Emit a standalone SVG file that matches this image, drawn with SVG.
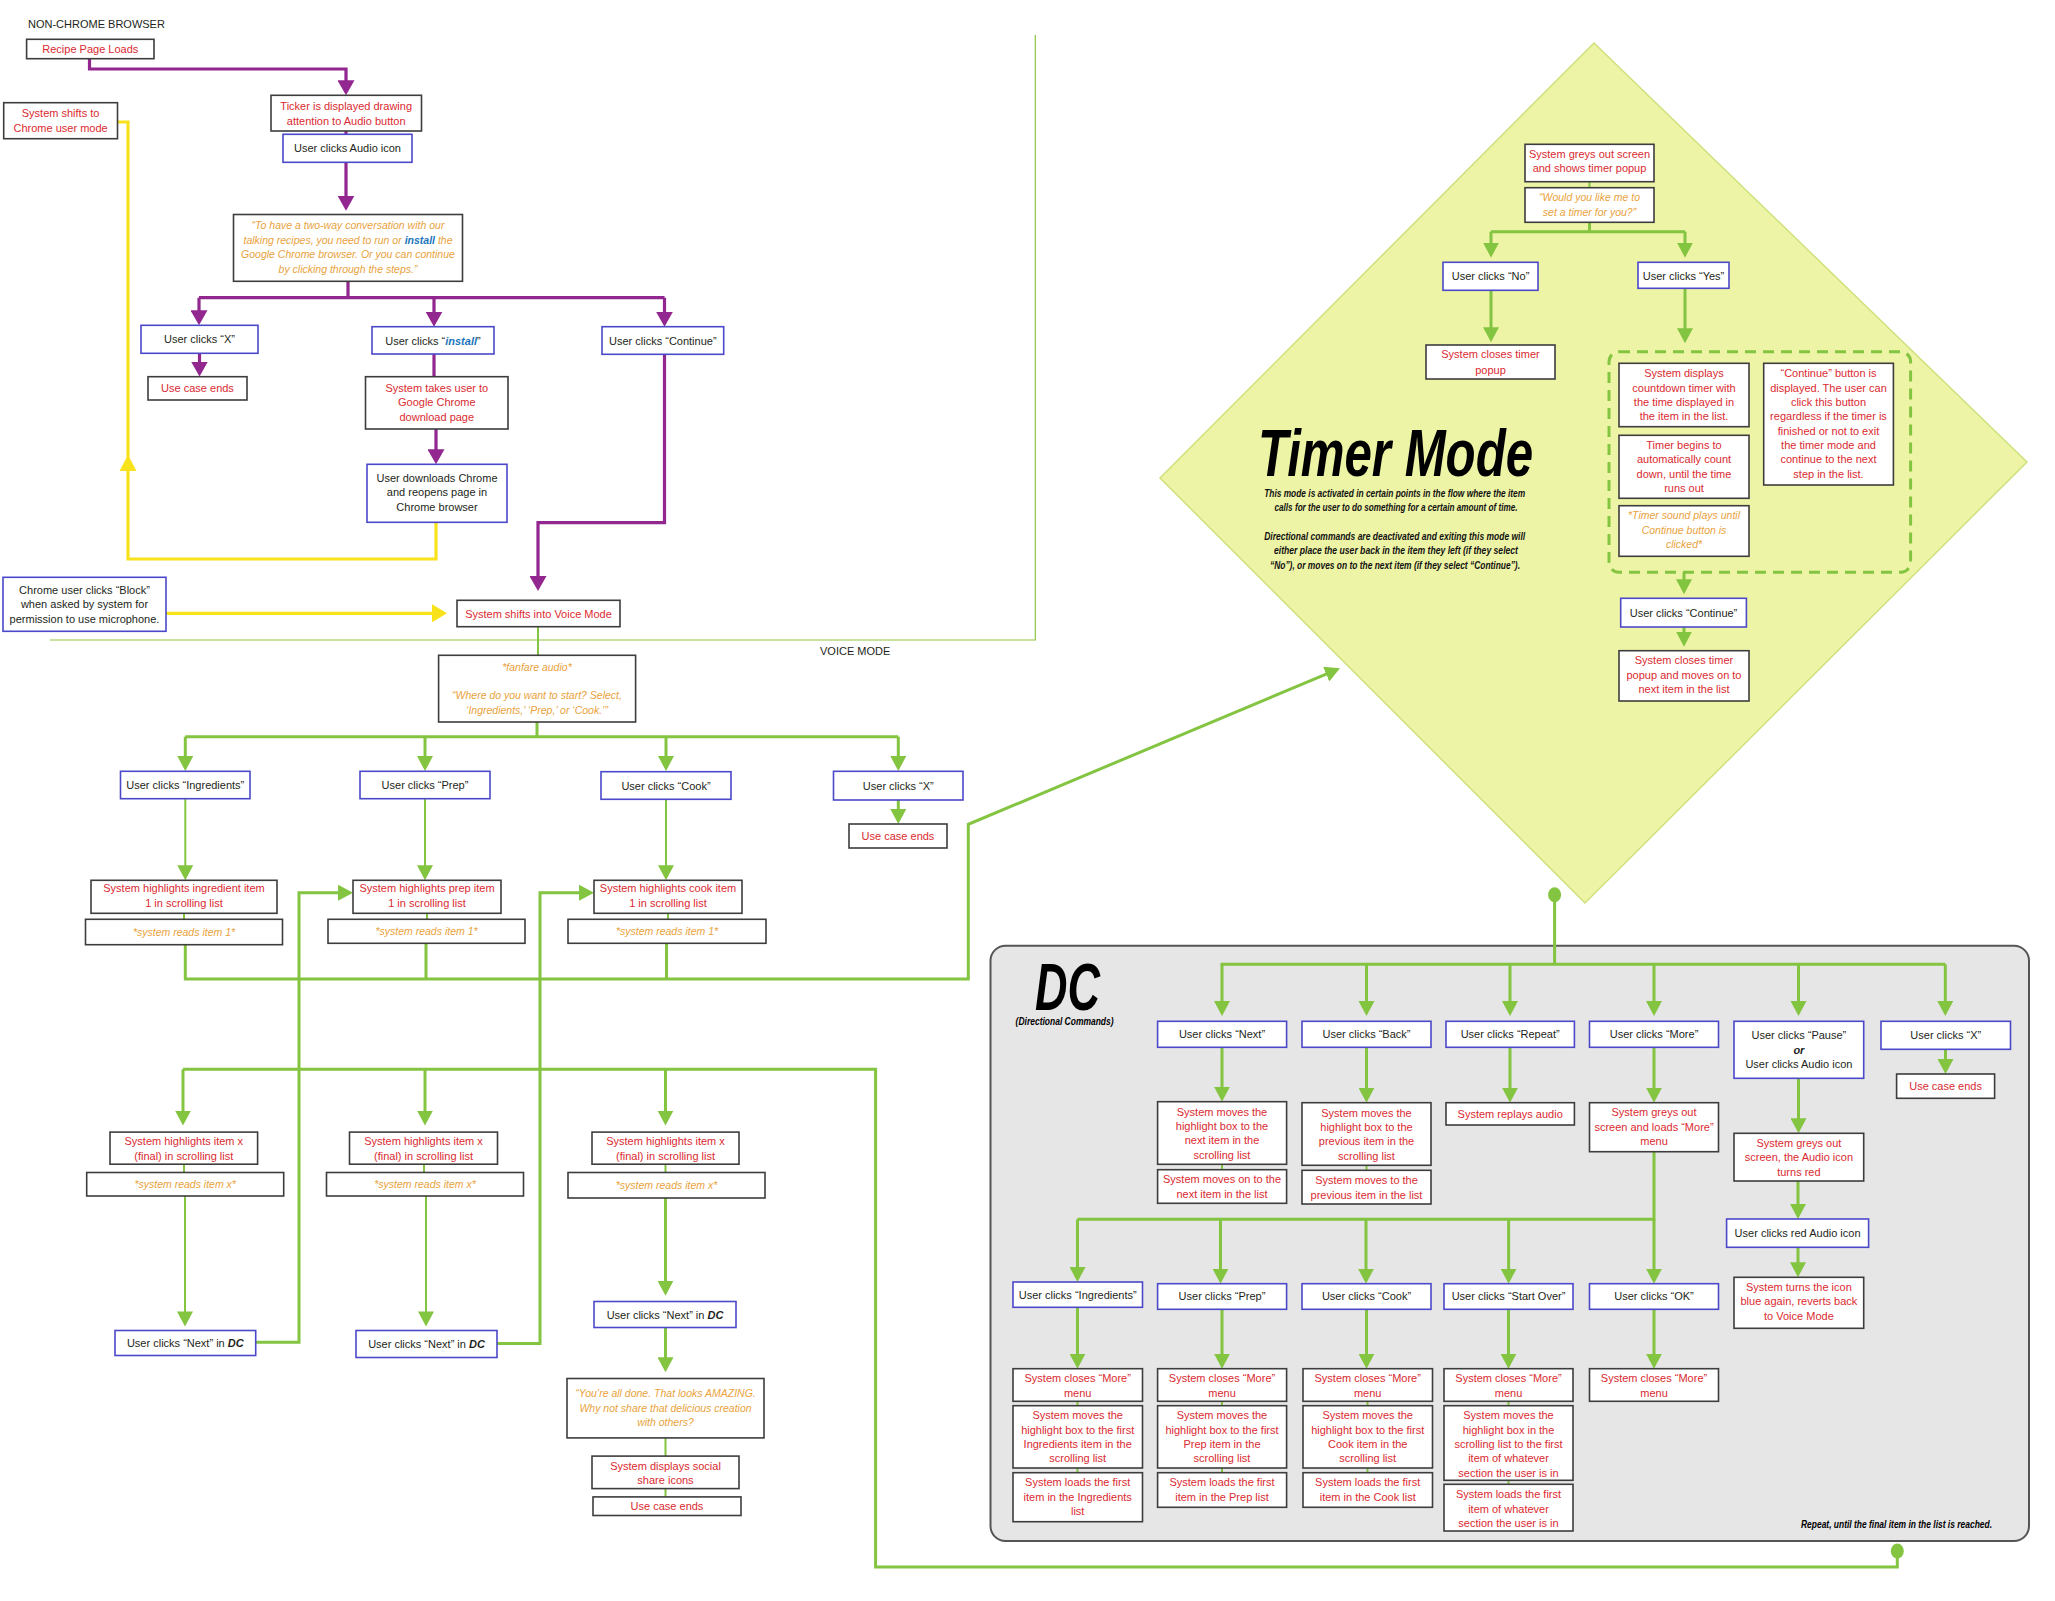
<svg xmlns="http://www.w3.org/2000/svg" width="2055" height="1601" viewBox="0 0 2055 1601">
<style>
text{font-family:"Liberation Sans",Arial,sans-serif;font-size:11px;}
.c{text-anchor:middle}
.r{fill:#da2a30}
.k{fill:#231f20}
.o{fill:#e9a23b;font-style:italic;font-size:10.5px}
.sb{fill:#fff;stroke:#3d3d3d;stroke-width:1.6}
.ub{fill:#fff;stroke:#4b49c9;stroke-width:1.6}
.pl{fill:none;stroke:#92278f;stroke-width:3.2}
.gl{fill:none;stroke:#83c441;stroke-width:3}
.gt{fill:none;stroke:#83c441;stroke-width:2}
.yl{fill:none;stroke:#f8e21c;stroke-width:3.2}
.bi{font-weight:bold;font-style:italic}
.bl{fill:#1b75bb;font-weight:bold;font-style:italic}
.big{font-weight:bold;font-style:italic;font-size:66px;fill:#000}
.desc{font-weight:bold;font-style:italic;font-size:10px;fill:#111}
</style>
<defs>
<marker id="ap" markerUnits="userSpaceOnUse" markerWidth="16" markerHeight="17" viewBox="0 0 16 17" refX="11" refY="8.5" orient="auto"><path d="M0,0L15,8.5L0,17z" fill="#92278f"/></marker>
<marker id="ag" markerUnits="userSpaceOnUse" markerWidth="16" markerHeight="16" viewBox="0 0 16 16" refX="11" refY="8" orient="auto"><path d="M0,0L15,8L0,16z" fill="#83c441"/></marker>
<marker id="ay" markerUnits="userSpaceOnUse" markerWidth="16" markerHeight="18" viewBox="0 0 16 18" refX="11" refY="9" orient="auto"><path d="M0,0L15,9L0,18z" fill="#f8e21c"/></marker>
</defs>
<rect width="2055" height="1601" fill="#fff"/>

<g id="timer-mode-area">
<polygon points="1594,43 2027,462 1585,903 1160,478" fill="#eef4a6" stroke="#cfe17c" stroke-width="1.5"/>
<text class="big" x="1258" y="475.7" textLength="275" lengthAdjust="spacingAndGlyphs">Timer Mode</text>
<text class="desc c" x="1394.7" y="497" textLength="261" lengthAdjust="spacingAndGlyphs">This mode is activated in certain points in the flow where the item</text>
<text class="desc c" x="1396" y="511" textLength="243" lengthAdjust="spacingAndGlyphs">calls for the user to do something for a certain amount of time.</text>
<text class="desc c" x="1394.7" y="540" textLength="261" lengthAdjust="spacingAndGlyphs">Directional commands are deactivated and exiting this mode will</text>
<text class="desc c" x="1396" y="554" textLength="244" lengthAdjust="spacingAndGlyphs">either place the user back in the item they left (if they select</text>
<text class="desc c" x="1395" y="569" textLength="250" lengthAdjust="spacingAndGlyphs">“No”), or moves on to the next item (if they select “Continue”).</text>
<rect x="1609" y="351.7" width="301.6" height="220.6" rx="10" fill="none" stroke="#83c441" stroke-width="3" stroke-dasharray="11 7"/>
</g>

<g id="dc-area">
<rect x="990.5" y="945.7" width="1038.5" height="595.3" rx="15" fill="#e6e6e6" stroke="#555" stroke-width="2"/>
<text class="big" x="1035" y="1010" textLength="65" lengthAdjust="spacingAndGlyphs">DC</text>
<text class="bi" x="1015.6" y="1025" font-size="9" textLength="98" lengthAdjust="spacingAndGlyphs">(Directional Commands)</text>
<text class="bi" x="1801" y="1527.5" font-size="9.5" textLength="191" lengthAdjust="spacingAndGlyphs">Repeat, until the final item in the list is reached.</text>
</g>

<g id="labels">
<text class="k" x="28" y="27.5" font-size="10">NON-CHROME BROWSER</text>
<text class="k" x="820" y="655" font-size="10.5">VOICE MODE</text>
</g>

<g id="connectors">
<path class="pl" d="M89.5,58.7V69H346V91.3" marker-end="url(#ap)"/>
<path class="pl" d="M346,131V134.3" stroke-width="2"/>
<path class="pl" d="M346,162.3V206.7" marker-end="url(#ap)"/>
<path class="pl" d="M348,281.3V297.7M199,297.7H664.5"/>
<path class="pl" d="M199,297.7V321.3" marker-end="url(#ap)"/>
<path class="pl" d="M434,297.7V322.7" marker-end="url(#ap)"/>
<path class="pl" d="M664.5,297.7V322.7" marker-end="url(#ap)"/>
<path class="pl" d="M434,354V376.7"/>
<path class="pl" d="M199.5,353.3V372.5" marker-end="url(#ap)"/>
<path class="pl" d="M436,429V460.3" marker-end="url(#ap)"/>
<path class="pl" d="M664.5,354.3V522.7H538V587" marker-end="url(#ap)"/>
<path class="yl" d="M436,522.3V559H128V122H117.5"/>
<polygon points="128,455 119.5,471 136.5,471" fill="#f8e21c"/>
<path class="yl" d="M166,613.3H443" marker-end="url(#ay)"/>
<path d="M50,640H1035.3V35" fill="none" stroke="#8dc63f" stroke-width="1.2"/>
<path class="gt" d="M538,626.7V655.3"/>
<path class="gl" d="M537,722V736.7M185.3,736.7H898.3"/>
<path class="gl" d="M185.3,736.7V767" marker-end="url(#ag)"/>
<path class="gl" d="M425,736.7V767" marker-end="url(#ag)"/>
<path class="gl" d="M666,736.7V767" marker-end="url(#ag)"/>
<path class="gl" d="M898.3,736.7V767" marker-end="url(#ag)"/>
<path class="gl" d="M898.3,800V820" marker-end="url(#ag)"/>
<path class="gt" d="M185.3,798.7V876.3" marker-end="url(#ag)"/>
<path class="gt" d="M425,798.7V876.3" marker-end="url(#ag)"/>
<path class="gt" d="M666,799.3V876.3" marker-end="url(#ag)"/>
<path class="gt" d="M184,913.3V919.3M427,913.3V919.3M668,913.3V919.3"/>
<path class="gl" d="M185.3,944.7V979H968.3V824.3L1336.3,669.9" marker-end="url(#ag)"/>
<path class="gl" d="M426,943.3V979M666.5,943.3V979"/>
<path class="gl" d="M255.7,1342.3H299V892.7H349" marker-end="url(#ag)"/>
<path class="gl" d="M497,1343.6H540V892.7H590" marker-end="url(#ag)"/>
<path class="gl" d="M183,1069.3H875.6V1567H1897.3V1551"/>
<path class="gl" d="M183,1069.3V1121.6" marker-end="url(#ag)"/>
<path class="gl" d="M425,1069.3V1121.6" marker-end="url(#ag)"/>
<path class="gl" d="M665.5,1069.3V1121.6" marker-end="url(#ag)"/>
<path class="gt" d="M184,1164.2V1172.5M424,1164.2V1172.5M665.5,1164.2V1172.5"/>
<path class="gt" d="M185,1196V1322.4" marker-end="url(#ag)"/>
<path class="gt" d="M426,1196V1322.4" marker-end="url(#ag)"/>
<path class="gl" d="M665.5,1198V1291.7" marker-end="url(#ag)"/>
<path class="gl" d="M665.5,1327.4V1368.3" marker-end="url(#ag)"/>
<path class="gt" d="M665.5,1437.9V1456.1M665.5,1488.6V1496.9"/>
<ellipse cx="1897.3" cy="1551" rx="6.5" ry="7.5" fill="#83c441"/>

<path class="gt" d="M1589.5,181.7V187.7"/>
<path class="gl" d="M1589.5,222.3V231.7M1491,231.7H1685"/>
<path class="gl" d="M1491,231.7V253.7" marker-end="url(#ag)"/>
<path class="gl" d="M1685,231.7V253.7" marker-end="url(#ag)"/>
<path class="gl" d="M1491,290.3V338.3" marker-end="url(#ag)"/>
<path class="gl" d="M1685,288.3V339.3" marker-end="url(#ag)"/>
<path class="gl" d="M1684,572.3V590.3" marker-end="url(#ag)"/>
<path class="gl" d="M1684,627V642.7" marker-end="url(#ag)"/>

<ellipse cx="1554.6" cy="894.7" rx="6.5" ry="7.5" fill="#83c441"/>
<path class="gl" d="M1554.6,894.7V964.3M1220.6,964.3H1945.3"/>
<path class="gl" d="M1222,964.3V1012" marker-end="url(#ag)"/>
<path class="gl" d="M1366.5,964.3V1012" marker-end="url(#ag)"/>
<path class="gl" d="M1510,964.3V1012" marker-end="url(#ag)"/>
<path class="gl" d="M1654,964.3V1012" marker-end="url(#ag)"/>
<path class="gl" d="M1798.5,964.3V1012" marker-end="url(#ag)"/>
<path class="gl" d="M1945.3,964.3V1012" marker-end="url(#ag)"/>
<path class="gl" d="M1945.5,1049.3V1070" marker-end="url(#ag)"/>
<path class="gl" d="M1222,1047.3V1097.7" marker-end="url(#ag)"/>
<path class="gl" d="M1366.5,1047.3V1098.7" marker-end="url(#ag)"/>
<path class="gl" d="M1510,1047.3V1098.7" marker-end="url(#ag)"/>
<path class="gl" d="M1654,1047.3V1098.7" marker-end="url(#ag)"/>
<path class="gt" d="M1222,1164.3V1169.7M1366.5,1165.3V1170.3"/>
<path class="gl" d="M1798.5,1078.3V1129.3" marker-end="url(#ag)"/>
<path class="gl" d="M1798,1181V1215" marker-end="url(#ag)"/>
<path class="gl" d="M1798,1247.3V1273.3" marker-end="url(#ag)"/>
<path class="gl" d="M1654,1151.7V1219.3H1077.5"/>
<path class="gl" d="M1654,1219.3V1279.7" marker-end="url(#ag)"/>
<path class="gl" d="M1077.5,1219.3V1278" marker-end="url(#ag)"/>
<path class="gl" d="M1220.5,1219.3V1279.7" marker-end="url(#ag)"/>
<path class="gl" d="M1366,1219.3V1279.7" marker-end="url(#ag)"/>
<path class="gl" d="M1508.6,1219.3V1279.7" marker-end="url(#ag)"/>
<path class="gl" d="M1077.5,1307.3V1364.7" marker-end="url(#ag)"/>
<path class="gl" d="M1222,1309.3V1364.7" marker-end="url(#ag)"/>
<path class="gl" d="M1366.5,1309.3V1364.7" marker-end="url(#ag)"/>
<path class="gl" d="M1508.5,1309.3V1364.7" marker-end="url(#ag)"/>
<path class="gl" d="M1654,1309.3V1364.7" marker-end="url(#ag)"/>
<path class="gt" d="M1077.5,1401.3V1405.7M1222,1401.3V1405.7M1367.5,1401.3V1405.7M1508.5,1401.3V1405.7M1077.5,1468V1472.7M1222,1468V1472.7M1367.5,1468V1472.7M1508.5,1480.3V1484.3"/>
</g>

<g id="recipe-page-loads"><rect class="sb" x="26.6" y="39.3" width="127.4" height="19.4"/><text class="c r" x="90.3" y="53">Recipe Page Loads</text></g>
<g id="ticker"><rect class="sb" x="271" y="95.3" width="150.5" height="35.7"/><text class="c r"><tspan x="346.2" y="110">Ticker is displayed drawing</tspan><tspan x="346.2" y="124.5">attention to Audio button</tspan></text></g>
<g id="user-clicks-audio"><rect class="ub" x="283" y="134.3" width="129" height="28"/><text class="c k" x="347.5" y="152">User clicks Audio icon</text></g>
<g id="chrome-prompt"><rect class="sb" x="233.5" y="214.5" width="229" height="66.8"/><text class="c o"><tspan x="348" y="229">“To have a two-way conversation with our</tspan><tspan x="348" y="243.5">talking recipes, you need to run or <tspan class="bl">install</tspan> the</tspan><tspan x="348" y="258">Google Chrome browser. Or you can continue</tspan><tspan x="348" y="272.5">by clicking through the steps.”</tspan></text></g>
<g id="user-clicks-x-1"><rect class="ub" x="141" y="325.3" width="117" height="28"/><text class="c k" x="199.5" y="343">User clicks “X”</text></g>
<g id="use-case-ends-1"><rect class="sb" x="148" y="376.7" width="99" height="23.3"/><text class="c r" x="197.5" y="392">Use case ends</text></g>
<g id="user-clicks-install"><rect class="ub" x="372" y="326.7" width="122" height="27.3"/><text class="c k" x="433" y="344.5">User clicks “<tspan class="bl">install</tspan>”</text></g>
<g id="chrome-download"><rect class="sb" x="365.5" y="376.7" width="142.5" height="52.3"/><text class="c r"><tspan x="436.8" y="391.5">System takes user to</tspan><tspan x="436.8" y="406">Google Chrome</tspan><tspan x="436.8" y="420.5">download page</tspan></text></g>
<g id="user-downloads-chrome"><rect class="ub" x="367" y="464.3" width="140" height="58"/><text class="c k"><tspan x="437" y="481.5">User downloads Chrome</tspan><tspan x="437" y="496">and reopens page in</tspan><tspan x="437" y="510.5">Chrome browser</tspan></text></g>
<g id="user-clicks-continue-1"><rect class="ub" x="602" y="326.7" width="121.7" height="27.6"/><text class="c k" x="662.8" y="344.5">User clicks “Continue”</text></g>
<g id="chrome-user-mode"><rect class="sb" x="3.7" y="102.7" width="113.8" height="36"/><text class="c r"><tspan x="60.6" y="117.3">System shifts to</tspan><tspan x="60.6" y="131.7">Chrome user mode</tspan></text></g>
<g id="chrome-block"><rect class="ub" x="3" y="577.3" width="163" height="54"/><text class="c k"><tspan x="84.5" y="594">Chrome user clicks “Block”</tspan><tspan x="84.5" y="608.3">when asked by system for</tspan><tspan x="84.5" y="622.6">permission to use microphone.</tspan></text></g>
<g id="voice-mode"><rect class="sb" x="457" y="600.3" width="163" height="26.4"/><text class="c r" x="538.5" y="617.5">System shifts into Voice Mode</text></g>
<g id="fanfare"><rect class="sb" x="438.6" y="655.3" width="197" height="66.7"/><text class="c o"><tspan x="537" y="670.5">*fanfare audio*</tspan><tspan x="537" y="699">“Where do you want to start? Select,</tspan><tspan x="537" y="714">‘Ingredients,’ ‘Prep,’ or ‘Cook.’”</tspan></text></g>

<g id="vm-ingredients"><rect class="ub" x="120.5" y="771.3" width="129.5" height="27.4"/><text class="c k" x="185.3" y="789">User clicks “Ingredients”</text></g>
<g id="vm-prep"><rect class="ub" x="360" y="771.3" width="130" height="27.4"/><text class="c k" x="425" y="789">User clicks “Prep”</text></g>
<g id="vm-cook"><rect class="ub" x="601" y="771.7" width="130" height="27.6"/><text class="c k" x="666" y="789.5">User clicks “Cook”</text></g>
<g id="vm-x"><rect class="ub" x="833.5" y="771.3" width="129.5" height="28.7"/><text class="c k" x="898.3" y="789.5">User clicks “X”</text></g>
<g id="use-case-ends-2"><rect class="sb" x="849" y="824" width="98" height="24"/><text class="c r" x="898" y="840">Use case ends</text></g>

<g id="hl-ingredient-1"><rect class="sb" x="91" y="880.3" width="186" height="33"/><text class="c r"><tspan x="184" y="892.3">System highlights ingredient item</tspan><tspan x="184" y="906.6">1 in scrolling list</tspan></text></g>
<g id="hl-prep-1"><rect class="sb" x="353" y="880.3" width="148" height="33"/><text class="c r"><tspan x="427" y="892.3">System highlights prep item</tspan><tspan x="427" y="906.6">1 in scrolling list</tspan></text></g>
<g id="hl-cook-1"><rect class="sb" x="594" y="880.3" width="148" height="33"/><text class="c r"><tspan x="668" y="892.3">System highlights cook item</tspan><tspan x="668" y="906.6">1 in scrolling list</tspan></text></g>
<g id="read-ingredient-1"><rect class="sb" x="85.5" y="919.3" width="197" height="25.4"/><text class="c o" x="184" y="935.5">*system reads item 1*</text></g>
<g id="read-prep-1"><rect class="sb" x="328" y="919.3" width="197" height="24"/><text class="c o" x="426.5" y="935">*system reads item 1*</text></g>
<g id="read-cook-1"><rect class="sb" x="568" y="919.3" width="198" height="24"/><text class="c o" x="667" y="935">*system reads item 1*</text></g>

<g id="hl-final-1"><rect class="sb" x="110" y="1132.1" width="147.6" height="32.1"/><text class="c r"><tspan x="183.8" y="1145.3">System highlights item x</tspan><tspan x="183.8" y="1159.8">(final) in scrolling list</tspan></text></g>
<g id="hl-final-2"><rect class="sb" x="349.5" y="1132.1" width="148" height="32.1"/><text class="c r"><tspan x="423.5" y="1145.3">System highlights item x</tspan><tspan x="423.5" y="1159.8">(final) in scrolling list</tspan></text></g>
<g id="hl-final-3"><rect class="sb" x="592" y="1132.1" width="147" height="32.1"/><text class="c r"><tspan x="665.5" y="1145.3">System highlights item x</tspan><tspan x="665.5" y="1159.8">(final) in scrolling list</tspan></text></g>
<g id="read-final-1"><rect class="sb" x="86.7" y="1172.5" width="197" height="23.5"/><text class="c o" x="185.2" y="1188">*system reads item x*</text></g>
<g id="read-final-2"><rect class="sb" x="326.5" y="1172.5" width="197" height="23.5"/><text class="c o" x="425" y="1188">*system reads item x*</text></g>
<g id="read-final-3"><rect class="sb" x="568" y="1172.5" width="197" height="25.5"/><text class="c o" x="666.5" y="1189">*system reads item x*</text></g>
<g id="next-dc-1"><rect class="ub" x="115" y="1330.5" width="140.7" height="25"/><text class="c k" x="185.3" y="1347">User clicks “Next” in <tspan class="bi">DC</tspan></text></g>
<g id="next-dc-2"><rect class="ub" x="356" y="1330.5" width="141" height="27"/><text class="c k" x="426.5" y="1348">User clicks “Next” in <tspan class="bi">DC</tspan></text></g>
<g id="next-dc-3"><rect class="ub" x="594" y="1301.5" width="142" height="26"/><text class="c k" x="665" y="1318.5">User clicks “Next” in <tspan class="bi">DC</tspan></text></g>
<g id="all-done"><rect class="sb" x="567" y="1378.5" width="197" height="59.4"/><text class="c o"><tspan x="665.5" y="1397">“You’re all done. That looks AMAZING.</tspan><tspan x="665.5" y="1411.5">Why not share that delicious creation</tspan><tspan x="665.5" y="1425.5">with others?</tspan></text></g>
<g id="social-icons"><rect class="sb" x="592" y="1456.1" width="147" height="32.5"/><text class="c r"><tspan x="665.5" y="1469.5">System displays social</tspan><tspan x="665.5" y="1484">share icons</tspan></text></g>
<g id="use-case-ends-3"><rect class="sb" x="593" y="1496.9" width="148" height="18.6"/><text class="c r" x="667" y="1510">Use case ends</text></g>

<g id="tm-greys-out"><rect class="sb" x="1525" y="144.3" width="129" height="37.4"/><text class="c r"><tspan x="1589.5" y="158">System greys out screen</tspan><tspan x="1589.5" y="172">and shows timer popup</tspan></text></g>
<g id="tm-would-you"><rect class="sb" x="1525" y="187.7" width="129" height="34.6"/><text class="c o"><tspan x="1589.5" y="201">“Would you like me to</tspan><tspan x="1589.5" y="215.5">set a timer for you?”</tspan></text></g>
<g id="tm-no"><rect class="ub" x="1443" y="262.3" width="95" height="28"/><text class="c k" x="1490.5" y="280">User clicks “No”</text></g>
<g id="tm-yes"><rect class="ub" x="1638" y="262.3" width="91" height="26"/><text class="c k" x="1683.5" y="279.5">User clicks “Yes”</text></g>
<g id="tm-closes"><rect class="sb" x="1426" y="345" width="129" height="34"/><text class="c r"><tspan x="1490.5" y="358">System closes timer</tspan><tspan x="1490.5" y="373.5">popup</tspan></text></g>
<g id="tm-countdown"><rect class="sb" x="1619" y="363.3" width="130" height="63.4"/><text class="c r"><tspan x="1684" y="377">System displays</tspan><tspan x="1684" y="391.5">countdown timer with</tspan><tspan x="1684" y="406">the time displayed in</tspan><tspan x="1684" y="420.3">the item in the list.</tspan></text></g>
<g id="tm-begins"><rect class="sb" x="1619" y="435.3" width="130" height="63"/><text class="c r"><tspan x="1684" y="449">Timer begins to</tspan><tspan x="1684" y="463.3">automatically count</tspan><tspan x="1684" y="477.8">down, until the time</tspan><tspan x="1684" y="492">runs out</tspan></text></g>
<g id="tm-sound"><rect class="sb" x="1619" y="505.7" width="130" height="50.6"/><text class="c o"><tspan x="1684" y="519">*Timer sound plays until</tspan><tspan x="1684" y="533.5">Continue button is</tspan><tspan x="1684" y="548">clicked*</tspan></text></g>
<g id="tm-continue-button"><rect class="sb" x="1763.7" y="363.3" width="129.7" height="121.7"/><text class="c r"><tspan x="1828.5" y="377">“Continue” button is</tspan><tspan x="1828.5" y="391.5">displayed. The user can</tspan><tspan x="1828.5" y="405.8">click this button</tspan><tspan x="1828.5" y="420.1">regardless if the timer is</tspan><tspan x="1828.5" y="434.5">finished or not to exit</tspan><tspan x="1828.5" y="448.8">the timer mode and</tspan><tspan x="1828.5" y="463.1">continue to the next</tspan><tspan x="1828.5" y="477.5">step in the list.</tspan></text></g>
<g id="tm-user-continue"><rect class="ub" x="1620.7" y="598.3" width="125.7" height="28.7"/><text class="c k" x="1683.5" y="616.5">User clicks “Continue”</text></g>
<g id="tm-closes-moves"><rect class="sb" x="1619" y="650.7" width="130" height="50.3"/><text class="c r"><tspan x="1684" y="664">System closes timer</tspan><tspan x="1684" y="678.5">popup and moves on to</tspan><tspan x="1684" y="693">next item in the list</tspan></text></g>

<g id="dc-next"><rect class="ub" x="1157.6" y="1021.3" width="129" height="26"/><text class="c k" x="1222" y="1038">User clicks “Next”</text></g>
<g id="dc-back"><rect class="ub" x="1302" y="1021.3" width="129" height="26"/><text class="c k" x="1366.5" y="1038">User clicks “Back”</text></g>
<g id="dc-repeat"><rect class="ub" x="1446" y="1021.3" width="128.4" height="26"/><text class="c k" x="1510.2" y="1038">User clicks “Repeat”</text></g>
<g id="dc-more"><rect class="ub" x="1589.5" y="1021.3" width="129" height="26"/><text class="c k" x="1654" y="1038">User clicks “More”</text></g>
<g id="dc-pause"><rect class="ub" x="1734" y="1021.3" width="129.7" height="57"/><text class="c k"><tspan x="1798.9" y="1039">User clicks “Pause”</tspan><tspan x="1798.9" y="1054" class="bi">or</tspan><tspan x="1798.9" y="1068">User clicks Audio icon</tspan></text></g>
<g id="dc-x"><rect class="ub" x="1881" y="1021.3" width="129.5" height="28"/><text class="c k" x="1945.8" y="1039">User clicks “X”</text></g>
<g id="dc-use-case-ends"><rect class="sb" x="1896.6" y="1074" width="98" height="24.3"/><text class="c r" x="1945.6" y="1090">Use case ends</text></g>
<g id="dc-next-moves"><rect class="sb" x="1157.6" y="1101.7" width="129" height="62.6"/><text class="c r"><tspan x="1222" y="1115.5">System moves the</tspan><tspan x="1222" y="1130">highlight box to the</tspan><tspan x="1222" y="1144.3">next item in the</tspan><tspan x="1222" y="1158.7">scrolling list</tspan></text></g>
<g id="dc-next-moves-on"><rect class="sb" x="1157.6" y="1169.7" width="129" height="33.6"/><text class="c r"><tspan x="1222" y="1183">System moves on to the</tspan><tspan x="1222" y="1197.5">next item in the list</tspan></text></g>
<g id="dc-back-moves"><rect class="sb" x="1302" y="1102.7" width="129" height="62.6"/><text class="c r"><tspan x="1366.5" y="1116.5">System moves the</tspan><tspan x="1366.5" y="1131">highlight box to the</tspan><tspan x="1366.5" y="1145.3">previous item in the</tspan><tspan x="1366.5" y="1159.7">scrolling list</tspan></text></g>
<g id="dc-back-moves-to"><rect class="sb" x="1302" y="1170.3" width="129" height="33.7"/><text class="c r"><tspan x="1366.5" y="1184">System moves to the</tspan><tspan x="1366.5" y="1198.5">previous item in the list</tspan></text></g>
<g id="dc-replays"><rect class="sb" x="1446" y="1102.7" width="128.4" height="22.3"/><text class="c r" x="1510.2" y="1117.5">System replays audio</text></g>
<g id="dc-more-menu"><rect class="sb" x="1589.5" y="1102.7" width="129" height="49"/><text class="c r"><tspan x="1654" y="1116">System greys out</tspan><tspan x="1654" y="1130.5">screen and loads “More”</tspan><tspan x="1654" y="1145">menu</tspan></text></g>
<g id="dc-pause-greys"><rect class="sb" x="1734" y="1133.3" width="129.7" height="47.7"/><text class="c r"><tspan x="1798.9" y="1147">System greys out</tspan><tspan x="1798.9" y="1161">screen, the Audio icon</tspan><tspan x="1798.9" y="1175.5">turns red</tspan></text></g>
<g id="dc-red-audio"><rect class="ub" x="1726.6" y="1219" width="142" height="28.3"/><text class="c k" x="1797.6" y="1237">User clicks red Audio icon</text></g>
<g id="dc-turns-blue"><rect class="sb" x="1734" y="1277.3" width="129.7" height="51"/><text class="c r"><tspan x="1798.9" y="1291">System turns the icon</tspan><tspan x="1798.9" y="1305.2">blue again, reverts back</tspan><tspan x="1798.9" y="1319.5">to Voice Mode</tspan></text></g>

<g id="dc-m-ingredients"><rect class="ub" x="1013" y="1282" width="129.5" height="25.3"/><text class="c k" x="1077.7" y="1298.5">User clicks “Ingredients”</text></g>
<g id="dc-m-prep"><rect class="ub" x="1157.6" y="1283.7" width="129" height="25.6"/><text class="c k" x="1222" y="1300.3">User clicks “Prep”</text></g>
<g id="dc-m-cook"><rect class="ub" x="1302" y="1283.7" width="129" height="25.6"/><text class="c k" x="1366.5" y="1300.3">User clicks “Cook”</text></g>
<g id="dc-m-start-over"><rect class="ub" x="1444" y="1283.7" width="129" height="25.6"/><text class="c k" x="1508.5" y="1300.3">User clicks “Start Over”</text></g>
<g id="dc-m-ok"><rect class="ub" x="1589.5" y="1283.7" width="129" height="25.6"/><text class="c k" x="1654" y="1300.3">User clicks “OK”</text></g>

<g id="dc-close-1"><rect class="sb" x="1013" y="1368.7" width="129.5" height="32.6"/><text class="c r"><tspan x="1077.7" y="1382">System closes “More”</tspan><tspan x="1077.7" y="1396.5">menu</tspan></text></g>
<g id="dc-close-2"><rect class="sb" x="1157.6" y="1368.7" width="129" height="32.6"/><text class="c r"><tspan x="1222" y="1382">System closes “More”</tspan><tspan x="1222" y="1396.5">menu</tspan></text></g>
<g id="dc-close-3"><rect class="sb" x="1303" y="1368.7" width="129.5" height="32.6"/><text class="c r"><tspan x="1367.7" y="1382">System closes “More”</tspan><tspan x="1367.7" y="1396.5">menu</tspan></text></g>
<g id="dc-close-4"><rect class="sb" x="1444" y="1368.7" width="129" height="32.6"/><text class="c r"><tspan x="1508.5" y="1382">System closes “More”</tspan><tspan x="1508.5" y="1396.5">menu</tspan></text></g>
<g id="dc-close-5"><rect class="sb" x="1589.5" y="1368.7" width="129" height="32.6"/><text class="c r"><tspan x="1654" y="1382">System closes “More”</tspan><tspan x="1654" y="1396.5">menu</tspan></text></g>

<g id="dc-move-ingredients"><rect class="sb" x="1013" y="1405.7" width="129.5" height="62.3"/><text class="c r"><tspan x="1077.7" y="1419">System moves the</tspan><tspan x="1077.7" y="1433.5">highlight box to the first</tspan><tspan x="1077.7" y="1448">Ingredients item in the</tspan><tspan x="1077.7" y="1462">scrolling list</tspan></text></g>
<g id="dc-move-prep"><rect class="sb" x="1157.6" y="1405.7" width="129" height="62.3"/><text class="c r"><tspan x="1222" y="1419">System moves the</tspan><tspan x="1222" y="1433.5">highlight box to the first</tspan><tspan x="1222" y="1448">Prep item in the</tspan><tspan x="1222" y="1462">scrolling list</tspan></text></g>
<g id="dc-move-cook"><rect class="sb" x="1303" y="1405.7" width="129.5" height="62.3"/><text class="c r"><tspan x="1367.7" y="1419">System moves the</tspan><tspan x="1367.7" y="1433.5">highlight box to the first</tspan><tspan x="1367.7" y="1448">Cook item in the</tspan><tspan x="1367.7" y="1462">scrolling list</tspan></text></g>
<g id="dc-move-start-over"><rect class="sb" x="1444" y="1405.7" width="129" height="74.6"/><text class="c r"><tspan x="1508.5" y="1419">System moves the</tspan><tspan x="1508.5" y="1433.5">highlight box in the</tspan><tspan x="1508.5" y="1448">scrolling list to the first</tspan><tspan x="1508.5" y="1462">item of whatever</tspan><tspan x="1508.5" y="1476.5">section the user is in</tspan></text></g>
<g id="dc-load-ingredients"><rect class="sb" x="1013" y="1472.7" width="129.5" height="49"/><text class="c r"><tspan x="1077.7" y="1486">System loads the first</tspan><tspan x="1077.7" y="1500.5">item in the Ingredients</tspan><tspan x="1077.7" y="1515">list</tspan></text></g>
<g id="dc-load-prep"><rect class="sb" x="1157.6" y="1472.7" width="129" height="34.6"/><text class="c r"><tspan x="1222" y="1486">System loads the first</tspan><tspan x="1222" y="1500.5">item in the Prep list</tspan></text></g>
<g id="dc-load-cook"><rect class="sb" x="1303" y="1472.7" width="129.5" height="34.6"/><text class="c r"><tspan x="1367.7" y="1486">System loads the first</tspan><tspan x="1367.7" y="1500.5">item in the Cook list</tspan></text></g>
<g id="dc-load-start-over"><rect class="sb" x="1444" y="1484.3" width="129" height="46.7"/><text class="c r"><tspan x="1508.5" y="1498">System loads the first</tspan><tspan x="1508.5" y="1512.5">item of whatever</tspan><tspan x="1508.5" y="1527">section the user is in</tspan></text></g>
</svg>
